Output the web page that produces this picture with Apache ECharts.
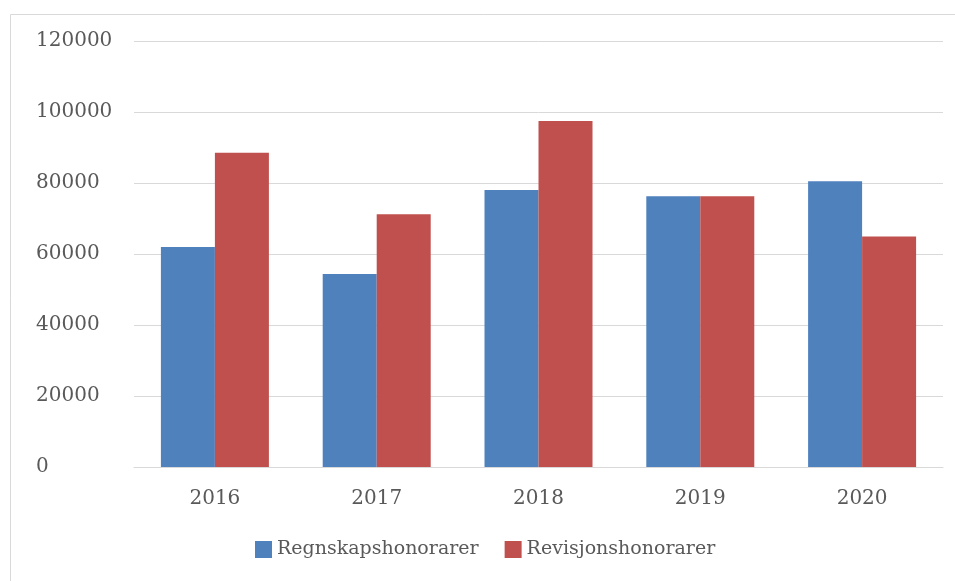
<!DOCTYPE html>
<html>
<head>
<meta charset="utf-8">
<script src="https://cdn.jsdelivr.net/npm/echarts@6/dist/echarts.min.js"></script>
<style>
  html, body { margin: 0; padding: 0; background: #fff; overflow: hidden; }
  #chart { width: 955px; height: 581px; }
</style>
</head>
<body>
<div id="chart"></div>
<script>
// data
const years = ['2016', '2017', '2018', '2019', '2020']
const regnskap = [62000, 54400, 78000, 76300, 80500]
const revisjon = [88500, 71200, 97500, 76300, 64900]
const yTicks = { min: 0, max: 120000, interval: 20000 }

const textColor = '#595959'
const font = 'DejaVu Serif'

const chart = echarts.init(document.getElementById('chart'))
chart.setOption({
  animation: false,
  textStyle: { fontFamily: font },
  // the frame round the chart, cut off on the right and bottom
  graphic: [{
    type: 'polyline',
    silent: true,
    shape: { points: [[10.5, 600], [10.5, 14.5], [970, 14.5]] },
    style: { stroke: '#d9d9d9', lineWidth: 1, fill: null }
  }],
  legend: {
    left: 255,
    top: 540,
    padding: 0,
    itemWidth: 17,
    itemHeight: 17,
    itemGap: 26,
    icon: 'rect',
    textStyle: { color: textColor, fontSize: 19, fontFamily: font },
    data: ['Regnskapshonorarer', 'Revisjonshonorarer']
  },
  grid: { left: 134, right: 12, top: 41, bottom: 114 },
  xAxis: {
    type: 'category',
    data: years,
    axisLine: { lineStyle: { color: '#d9d9d9', width: 1 } },
    axisTick: { show: false },
    axisLabel: { color: textColor, fontSize: 20, margin: 22, fontFamily: font }
  },
  yAxis: {
    type: 'value',
    min: yTicks.min,
    max: yTicks.max,
    interval: yTicks.interval,
    axisLine: { show: false },
    axisTick: { show: false },
    splitLine: { lineStyle: { color: '#d9d9d9', width: 1 } },
    axisLabel: {
      color: textColor, fontSize: 20, align: 'left', margin: 98, fontFamily: font,
      formatter: (v) => String(v) // no thousands separator
    }
  },
  series: [
    {
      name: 'Regnskapshonorarer',
      type: 'bar',
      barWidth: 54,
      barGap: '0%',
      itemStyle: { color: '#4f81bd' },
      data: regnskap
    },
    {
      name: 'Revisjonshonorarer',
      type: 'bar',
      barWidth: 54,
      barGap: '0%',
      itemStyle: { color: '#c0504d' },
      data: revisjon
    }
  ]
})
</script>
</body>
</html>
